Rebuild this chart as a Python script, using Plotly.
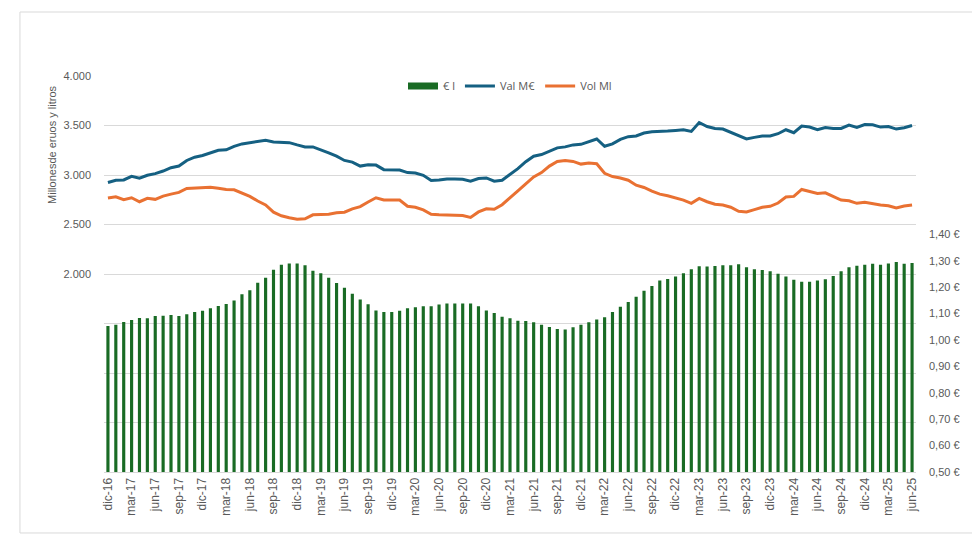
import plotly.graph_objects as go

month_abbr = ["ene", "feb", "mar", "abr", "may", "jun", "jul", "ago", "sep", "oct", "nov", "dic"]
start_year, start_month = 2016, 12
n_months = 103
months = []
for k in range(n_months):
    m = (start_month - 1 + k) % 12
    y = start_year + (start_month - 1 + k) // 12
    months.append(f"{month_abbr[m]}-{str(y)[2:]}")
tick_months = months[::3]

price_eur_l = [
    1.053, 1.058, 1.068, 1.076, 1.083, 1.082, 1.091, 1.092, 1.095, 1.091, 1.098, 1.106,
    1.111, 1.120, 1.129, 1.136, 1.150, 1.173, 1.188, 1.217, 1.236, 1.266, 1.285, 1.290,
    1.290, 1.283, 1.262, 1.253, 1.236, 1.216, 1.198, 1.175, 1.153, 1.135, 1.112, 1.106,
    1.106, 1.111, 1.120, 1.124, 1.128, 1.128, 1.134, 1.138, 1.138, 1.138, 1.138, 1.128,
    1.112, 1.102, 1.088, 1.082, 1.073, 1.072, 1.067, 1.058, 1.049, 1.042, 1.040, 1.048,
    1.058, 1.067, 1.078, 1.086, 1.106, 1.126, 1.144, 1.164, 1.187, 1.205, 1.225, 1.231,
    1.241, 1.253, 1.268, 1.279, 1.278, 1.280, 1.283, 1.283, 1.287, 1.276, 1.268, 1.265,
    1.260, 1.251, 1.241, 1.228, 1.221, 1.221, 1.225, 1.230, 1.242, 1.260, 1.276, 1.281,
    1.285, 1.289, 1.285, 1.290, 1.295, 1.289, 1.292,
]

val_meur = [
    2924, 2947, 2950, 2987, 2967, 2997, 3014, 3040, 3074, 3090, 3147, 3180,
    3197, 3224, 3250, 3254, 3290, 3314, 3324, 3334, 3350, 3334, 3334, 3327,
    3304, 3284, 3284, 3257, 3224, 3190, 3147, 3130, 3090, 3104, 3100, 3054,
    3050, 3050, 3024, 3020, 2997, 2944, 2950, 2960, 2960, 2957, 2937, 2964,
    2970, 2937, 2947, 3007, 3064, 3134, 3190, 3207, 3240, 3274, 3284, 3304,
    3310, 3340, 3364, 3290, 3314, 3360, 3387, 3394, 3424, 3437, 3444, 3444,
    3450, 3457, 3440, 3530, 3490, 3470, 3464, 3430, 3390, 3364, 3380, 3394,
    3394, 3417, 3457, 3427, 3494, 3484, 3457, 3480, 3470, 3470, 3504, 3480,
    3510, 3507, 3484, 3490, 3464, 3477, 3500,
]

vol_ml = [
    2767, 2780, 2750, 2770, 2730, 2764, 2754, 2787, 2807, 2824, 2864, 2867,
    2867, 2877, 2867, 2854, 2850, 2814, 2784, 2737, 2697, 2624, 2588, 2568,
    2554, 2558, 2598, 2601, 2604, 2618, 2624, 2658, 2681, 2727, 2770, 2747,
    2748, 2747, 2684, 2674, 2647, 2604, 2598, 2598, 2594, 2591, 2571, 2627,
    2658, 2654, 2700, 2774, 2840, 2910, 2980, 3024, 3090, 3137, 3147, 3137,
    3110, 3120, 3114, 3017, 2984, 2970, 2947, 2897, 2874, 2837, 2807, 2790,
    2767, 2747, 2714, 2764, 2730, 2704, 2697, 2674, 2634, 2627, 2650, 2674,
    2684, 2717, 2777, 2784, 2854, 2837, 2814, 2820, 2784, 2747, 2740, 2714,
    2724, 2710, 2697, 2690, 2667, 2687, 2697,
]

left_ticks = [0, 500, 1000, 1500, 2000, 2500, 3000, 3500, 4000]
left_labels = ["", "", "", "", "2.000", "2.500", "3.000", "3.500", "4.000"]
right_ticks = [0.5, 0.6, 0.7, 0.8, 0.9, 1.0, 1.1, 1.2, 1.3, 1.4]
right_labels = ["0,50 €", "0,60 €", "0,70 €", "0,80 €", "0,90 €", "1,00 €",
                "1,10 €", "1,20 €", "1,30 €", "1,40 €"]

GREEN = "#196B24"
BLUE = "#156082"
ORANGE = "#E97132"
GRAY = "#595959"

fig = go.Figure()
fig.add_trace(go.Bar(x=months, y=price_eur_l, name="€ l", yaxis="y2",
                     showlegend=False, legendgroup="p",
                     marker=dict(color=GREEN, line=dict(width=0))))
# legend key for the bars (wide rectangle as in the original)
fig.add_trace(go.Scatter(x=[None], y=[None], name="€ l", mode="lines",
                         legendgroup="p", line=dict(color=GREEN, width=7)))
fig.add_trace(go.Scatter(x=months, y=val_meur, name="Val M€", mode="lines",
                         line=dict(color=BLUE, width=3)))
fig.add_trace(go.Scatter(x=months, y=vol_ml, name="Vol Ml", mode="lines",
                         line=dict(color=ORANGE, width=3)))

fig.update_layout(
    width=980, height=560,
    margin=dict(l=96, r=72, t=68, b=96),
    paper_bgcolor="white", plot_bgcolor="white",
    font=dict(family="Liberation Sans, Arial, sans-serif", size=11, color=GRAY),
    bargap=0.6,
    showlegend=True,
    legend=dict(orientation="h", x=0.5, xanchor="center", y=0.975, yanchor="middle",
                font=dict(family="Open Sans, sans-serif", size=11, color=GRAY),
                bgcolor="rgba(0,0,0,0)", itemwidth=30, traceorder="normal",
                tracegroupgap=0),
    xaxis=dict(type="category", range=[-0.5, n_months - 0.5],
               tickmode="array", tickvals=tick_months, ticktext=tick_months,
               tickangle=-90, showgrid=False, showline=True, linecolor="#d9d9d9",
               linewidth=1, ticks="", tickfont=dict(size=12, color=GRAY)),
    yaxis=dict(range=[0, 4000], tickmode="array", tickvals=left_ticks,
               ticktext=left_labels, showgrid=True, gridcolor="#d9d9d9",
               gridwidth=1, zeroline=False, showline=False,
               ticklabelstandoff=12, tickfont=dict(size=11, color=GRAY)),
    yaxis2=dict(range=[0.5, 2.0], overlaying="y", side="right",
                tickmode="array", tickvals=right_ticks, ticktext=right_labels,
                showgrid=False, zeroline=False, showline=False,
                ticklabelstandoff=12, tickfont=dict(size=11, color=GRAY)),
)

fig.add_annotation(text="Millonesde eruos y litros", xref="paper", yref="paper",
                   x=-0.064, y=0.826, textangle=-90, showarrow=False,
                   font=dict(size=11, color=GRAY), xanchor="center", yanchor="middle")

fig.add_shape(type="rect", xref="paper", yref="paper",
              x0=-0.1035, x1=1.0696, y0=-0.154, y1=1.1616,
              line=dict(color="#d9d9d9", width=1), fillcolor="rgba(0,0,0,0)",
              layer="below")

fig.write_html("out.html")
